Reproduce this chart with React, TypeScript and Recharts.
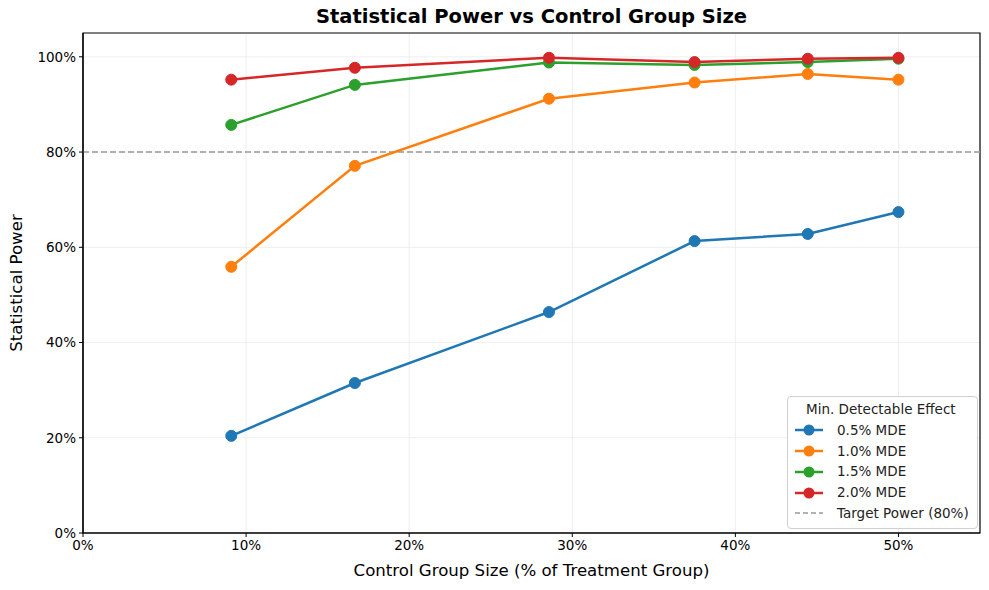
import {
  LineChart,
  Line,
  XAxis,
  YAxis,
  CartesianGrid,
  ReferenceLine,
  ReferenceArea,
} from 'recharts'

const controlShare = [0.0909, 0.1667, 0.2857, 0.375, 0.4444, 0.5]
const mde05 = [0.204, 0.315, 0.464, 0.613, 0.628, 0.674]
const mde10 = [0.559, 0.771, 0.912, 0.946, 0.964, 0.952]
const mde15 = [0.857, 0.941, 0.988, 0.983, 0.989, 0.996]
const mde20 = [0.952, 0.977, 0.998, 0.989, 0.996, 0.998]
const xTicks = [0, 0.1, 0.2, 0.3, 0.4, 0.5]
const yTicks = [0, 0.2, 0.4, 0.6, 0.8, 1.0]

const series = [
  { key: 'mde05', name: '0.5% MDE', color: '#1f77b4', values: mde05 },
  { key: 'mde10', name: '1.0% MDE', color: '#ff7f0e', values: mde10 },
  { key: 'mde15', name: '1.5% MDE', color: '#2ca02c', values: mde15 },
  { key: 'mde20', name: '2.0% MDE', color: '#d62728', values: mde20 },
]

const data = controlShare.map((x, i) => {
  const row: Record<string, number> = { x }
  series.forEach(s => { row[s.key] = s.values[i] })
  return row
})

const font = 'DejaVu Sans, sans-serif'
const pct = (v: number) => `${Math.round(v * 100)}%`

function LegendBox() {
  return (
    <div style={{
      position: 'absolute', left: 787, top: 396,
      background: 'white', border: '1px solid #d0d0d0', borderRadius: 4,
      padding: '2px 8px 4px 5px', fontFamily: font, fontSize: 13.5, color: '#222',
      lineHeight: '20.8px', whiteSpace: 'nowrap',
    }}>
      <div style={{ textAlign: 'center' }}>Min. Detectable Effect</div>
      {series.map(s => (
        <div key={s.key} style={{ display: 'flex', alignItems: 'center' }}>
          <svg width={32} height={12} style={{ marginRight: 12 }}>
            <line x1={2} x2={30} y1={6} y2={6} stroke={s.color} strokeWidth={2.5} />
            <circle cx={16} cy={6} r={5.5} fill={s.color} />
          </svg>
          {s.name}
        </div>
      ))}
      <div style={{ display: 'flex', alignItems: 'center' }}>
        <svg width={32} height={12} style={{ marginRight: 12 }}>
          <line x1={2} x2={30} y1={6} y2={6} stroke="#999" strokeWidth={1.5} strokeDasharray="5 3" />
        </svg>
        Target Power (80%)
      </div>
    </div>
  )
}

export default function App() {
  return (
    <div style={{ position: 'absolute', left: 0, top: 0, width: 989, height: 590, background: 'white' }}>
      <div style={{
        position: 'absolute', top: 5, left: 83, width: 897, textAlign: 'center',
        fontFamily: font, fontWeight: 'bold', fontSize: 19.5, color: '#000',
      }}>
        Statistical Power vs Control Group Size
      </div>
      <LineChart
        width={989}
        height={590}
        data={data}
        margin={{ top: 33, right: 9, bottom: 0, left: 0 }}
      >
        <CartesianGrid stroke="#ebebeb" strokeWidth={0.8} verticalValues={xTicks} horizontalValues={yTicks} />
        <XAxis
          dataKey="x"
          type="number"
          domain={[0, 0.55]}
          ticks={xTicks}
          tickFormatter={pct}
          tick={{ fontSize: 13.5, fill: '#000', fontFamily: font }}
          tickSize={4}
          tickMargin={3}
          stroke="#000"
          axisLine={{ stroke: '#000', strokeWidth: 1.2 }}
          height={57}
          label={{ value: 'Control Group Size (% of Treatment Group)', position: 'insideBottom', offset: 14, fontSize: 16.6, fill: '#000', fontFamily: font }}
        />
        <YAxis
          type="number"
          domain={[0, 1.05]}
          ticks={yTicks}
          tickFormatter={pct}
          tick={{ fontSize: 13.5, fill: '#000', fontFamily: font }}
          tickSize={4}
          tickMargin={3}
          stroke="#000"
          axisLine={{ stroke: '#000', strokeWidth: 1.2 }}
          width={83}
          label={{ value: 'Statistical Power', angle: -90, position: 'insideLeft', offset: 16, fontSize: 16.6, fill: '#000', fontFamily: font, style: { textAnchor: 'middle' } }}
        />
        <ReferenceArea x1={0} x2={0.55} y1={0} y2={1.05} fill="none" stroke="#000" strokeWidth={1.2} ifOverflow="visible" />
        <ReferenceLine y={0.8} stroke="#999" strokeWidth={1.5} strokeDasharray="6 3" />
        {series.map(s => (
          <Line
            key={s.key}
            dataKey={s.key}
            name={s.name}
            stroke={s.color}
            strokeWidth={2.5}
            dot={{ r: 5.5, fill: s.color, stroke: s.color, strokeWidth: 1 }}
            activeDot={false}
            isAnimationActive={false}
          />
        ))}
      </LineChart>
      <LegendBox />
    </div>
  )
}
